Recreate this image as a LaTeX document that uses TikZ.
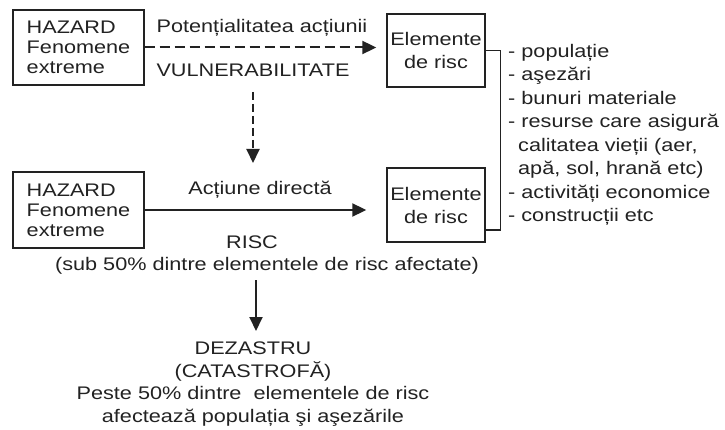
\documentclass[tikz,border=0pt]{standalone}
\usepackage{fontspec}
\setmainfont[FakeStretch=1.19]{Liberation Sans}
\usetikzlibrary{arrows.meta}
\definecolor{ink}{HTML}{222222}
\begin{document}
\begin{tikzpicture}[x=1pt,y=-1pt,
  txt/.style={font=\fontsize{18.2}{20}\selectfont, inner sep=0pt, text=ink},
  box/.style={draw=ink, line width=1.4pt, inner sep=0pt},
  arr/.style={draw=ink, line width=2pt, -{Triangle[length=14pt,width=13pt]}},
  dsh/.style={dash pattern=on 10pt off 5pt},
  dshv/.style={dash pattern=on 8pt off 4pt}]
\useasboundingbox[fill=white] (0,0) rectangle (725,430);
% boxes
\node[box, txt, align=left, minimum width=131pt, minimum height=75pt] (hz1) at (78.5,47.5) {HAZARD\\Fenomene\\extreme};
\node[box, txt, align=center, minimum width=98pt, minimum height=73pt, font=\fontsize{18.2}{23}\selectfont] (el1) at (436,50.5) {Elemente\\de risc};
\node[box, txt, align=left, minimum width=131pt, minimum height=76pt] (hz2) at (78.5,210) {HAZARD\\Fenomene\\extreme};
\node[box, txt, align=center, minimum width=98pt, minimum height=74pt, font=\fontsize{18.2}{23}\selectfont] (el2) at (436,205) {Elemente\\de risc};
% labels
\node[txt] (pot) at (262,28) {Potențialitatea acțiunii};
\node[txt] (vul) at (253,70) {VULNERABILITATE};
\node[txt] (act) at (260,190) {Acțiune directă};
\node[txt] (risc) at (252,242) {RISC};
\node[txt] (sub) at (267,266) {(sub 50\% dintre elementele de risc afectate)};
\node[txt, align=center, font=\fontsize{18.2}{22.7}\selectfont] (dez) at (253,384) {DEZASTRU\\(CATASTROFĂ)\\Peste 50\% dintre\ \ elementele de risc\\afectează populația şi aşezările};
\node[txt, align=left, anchor=north west, font=\fontsize{18.2}{23.5}\selectfont] (list) at (508,44) {- populație\\- aşezări\\- bunuri materiale\\- resurse care asigură\\\hspace*{10pt}calitatea vieții (aer,\\\hspace*{10pt}apă, sol, hrană etc)\\- activități economice\\- construcții etc};
% connectors
\draw[arr, dsh, shorten >=10pt] (hz1.east) -- (hz1.east -| el1.west);
\coordinate (v1) at (253,92);
\coordinate (v2) at (253,163);
\draw[arr, dshv] (v1) -- (v2);
\draw[arr, shorten >=20pt] (hz2.east) -- (hz2.east -| el2.west);
\coordinate (w1) at (256,280);
\coordinate (w2) at (256,331);
\draw[arr] (w1) -- (w2);
\draw[draw=ink, line width=1.4pt] (el1.east) -- ++(15,0) |- ([yshift=-25pt]el2.east);
\end{tikzpicture}
\end{document}
